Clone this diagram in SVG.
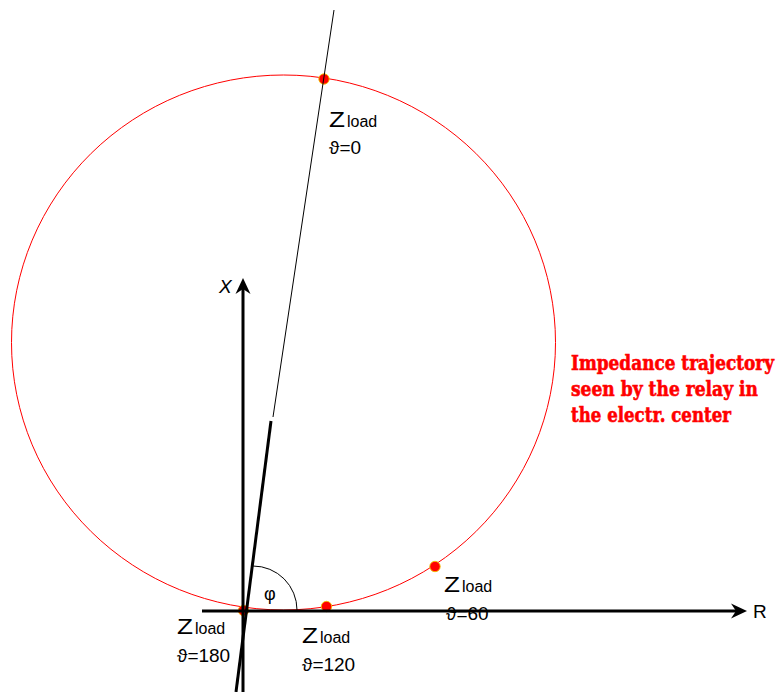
<svg xmlns="http://www.w3.org/2000/svg" width="784" height="692" viewBox="0 0 784 692">
<style>
.lbl{font-family:"Liberation Sans",Arial,"DejaVu Sans",sans-serif;fill:#000}
.z{font-size:22px}
.sub{font-size:16px}
.th{font-size:19px}
.red{font-family:"DejaVu Serif","Liberation Serif",serif;font-weight:bold;font-size:17px;fill:#ff0000;stroke:#ff0000;stroke-width:0.5}
.dot{fill:#ff0000;stroke:#f2c200;stroke-width:0.9}
.axis{stroke:#000;stroke-width:3;fill:none}
</style>
<defs>
<marker id="arr" markerUnits="userSpaceOnUse" viewBox="-8 -10 22 20" refX="0" refY="0" markerWidth="22" markerHeight="20" orient="auto">
<path d="M10,0 L-6,-7.5 L-1,0 L-6,7.5 Z" fill="#000"/>
</marker>
</defs>
<g id="trajectory">
<ellipse cx="283.5" cy="342.5" rx="272" ry="267.5" fill="none" stroke="#ff0000" stroke-width="1"/>
</g>
<g id="point-0"><circle class="dot" cx="324" cy="79" r="5.2"/></g>
<g id="point-60"><circle class="dot" cx="435" cy="566.5" r="5.2"/></g>
<g id="point-120"><circle class="dot" cx="326.5" cy="606.5" r="5.2"/></g>
<g id="point-180"><circle class="dot" cx="243.5" cy="610.5" r="5.2"/></g>
<g id="label-0" class="lbl">
<text class="z" x="329" y="127" textLength="16" lengthAdjust="spacingAndGlyphs">Z</text>
<text class="sub" x="347" y="127">load</text>
<text class="th" x="329" y="154">ϑ=0</text>
</g>
<g id="label-60" class="lbl">
<text class="z" x="444" y="592" textLength="16" lengthAdjust="spacingAndGlyphs">Z</text>
<text class="sub" x="462" y="592">load</text>
<text class="th" x="446" y="620">ϑ=60</text>
</g>
<g id="label-180" class="lbl">
<text class="z" x="177" y="634" textLength="16" lengthAdjust="spacingAndGlyphs">Z</text>
<text class="sub" x="195" y="634">load</text>
<text class="th" x="177" y="662">ϑ=180</text>
</g>
<g id="label-120" class="lbl">
<text class="z" x="302" y="643" textLength="16" lengthAdjust="spacingAndGlyphs">Z</text>
<text class="sub" x="320" y="643">load</text>
<text class="th" x="302" y="671">ϑ=120</text>
</g>
<g id="label-trajectory">
<text class="red" transform="matrix(1,0,0,1.15,571,370)" x="0" y="0" textLength="203" lengthAdjust="spacingAndGlyphs">Impedance trajectory</text>
<text class="red" transform="matrix(1,0,0,1.15,571,396)" x="0" y="0" textLength="187" lengthAdjust="spacingAndGlyphs">seen by the relay in</text>
<text class="red" transform="matrix(1,0,0,1.15,571,422)" x="0" y="0" textLength="160" lengthAdjust="spacingAndGlyphs">the electr. center</text>
</g>
<g id="axis-labels" class="lbl">
<text x="219" y="293" font-size="19" font-style="italic">X</text>
<text x="753" y="618" font-size="19">R</text>
<text x="264" y="600" font-size="18">φ</text>
</g>
<g id="connectors">
<line x1="334" y1="10" x2="273" y2="417" stroke="#000" stroke-width="1"/>
<line x1="271" y1="421" x2="236" y2="692" stroke="#000" stroke-width="3"/>
<path d="M253,566 A44,44 0 0 1 297,610" fill="none" stroke="#000" stroke-width="1"/>
<line class="axis" x1="243" y1="692" x2="243" y2="288" marker-end="url(#arr)"/>
<line class="axis" x1="202" y1="611" x2="737" y2="611" marker-end="url(#arr)"/>
</g>
</svg>
